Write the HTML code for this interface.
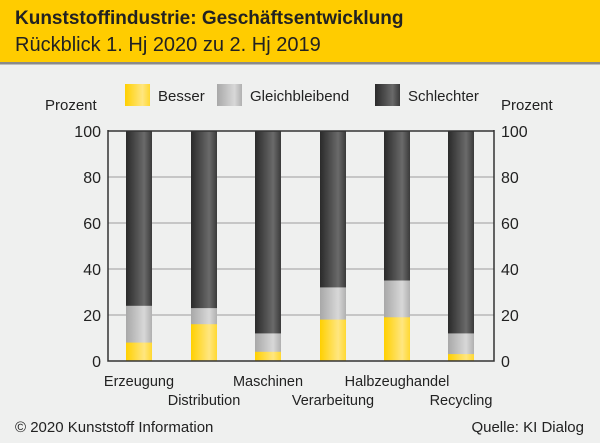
<!DOCTYPE html><html><head><style>body{margin:0}</style></head><body>
<svg width="600" height="443" xmlns="http://www.w3.org/2000/svg" font-family="Liberation Sans, sans-serif">
<defs>
<linearGradient id="y" x1="0" x2="1"><stop offset="0" stop-color="#ffd000"/><stop offset="0.7" stop-color="#ffe680"/><stop offset="1" stop-color="#ffd830"/></linearGradient>
<linearGradient id="g" x1="0" x2="1"><stop offset="0" stop-color="#a8a8a8"/><stop offset="0.7" stop-color="#d8d8d8"/><stop offset="1" stop-color="#b0b0b0"/></linearGradient>
<linearGradient id="d" x1="0" x2="1"><stop offset="0" stop-color="#2a2a2a"/><stop offset="0.7" stop-color="#6a6a6a"/><stop offset="1" stop-color="#3a3a3a"/></linearGradient>
</defs>
<rect width="600" height="443" fill="#eff0ef"/>
<rect width="600" height="62" fill="#ffcc00"/>
<rect y="62" width="600" height="2.5" fill="#8a8a8a"/>
<text x="15" y="24" font-size="19" font-weight="bold" fill="#222">Kunststoffindustrie: Geschäftsentwicklung</text>
<text x="15" y="51" font-size="20" fill="#222">Rückblick 1. Hj 2020 zu 2. Hj 2019</text>
<rect x="125" y="84" width="25" height="22" fill="url(#y)"/><text x="158" y="101" font-size="15" fill="#222">Besser</text>
<rect x="217" y="84" width="25" height="22" fill="url(#g)"/><text x="250" y="101" font-size="15" fill="#222">Gleichbleibend</text>
<rect x="375" y="84" width="25" height="22" fill="url(#d)"/><text x="408" y="101" font-size="15" fill="#222">Schlechter</text>
<text x="45" y="110" font-size="15" fill="#222">Prozent</text>
<text x="501" y="110" font-size="15" fill="#222">Prozent</text>
<g stroke="#b8b8b8" stroke-width="1.5">
<line x1="108" x2="494" y1="315" y2="315"/><line x1="108" x2="494" y1="269" y2="269"/><line x1="108" x2="494" y1="223" y2="223"/><line x1="108" x2="494" y1="177" y2="177"/>
</g>
<rect x="126" y="131" width="26" height="230" fill="url(#d)"/><rect x="126" y="305.8" width="26" height="55.2" fill="url(#g)"/><rect x="126" y="342.6" width="26" height="18.4" fill="url(#y)"/>
<rect x="191" y="131" width="26" height="230" fill="url(#d)"/><rect x="191" y="308.1" width="26" height="52.9" fill="url(#g)"/><rect x="191" y="324.2" width="26" height="36.8" fill="url(#y)"/>
<rect x="255" y="131" width="26" height="230" fill="url(#d)"/><rect x="255" y="333.4" width="26" height="27.6" fill="url(#g)"/><rect x="255" y="351.8" width="26" height="9.2" fill="url(#y)"/>
<rect x="320" y="131" width="26" height="230" fill="url(#d)"/><rect x="320" y="287.4" width="26" height="73.6" fill="url(#g)"/><rect x="320" y="319.6" width="26" height="41.4" fill="url(#y)"/>
<rect x="384" y="131" width="26" height="230" fill="url(#d)"/><rect x="384" y="280.5" width="26" height="80.5" fill="url(#g)"/><rect x="384" y="317.3" width="26" height="43.7" fill="url(#y)"/>
<rect x="448" y="131" width="26" height="230" fill="url(#d)"/><rect x="448" y="333.4" width="26" height="27.6" fill="url(#g)"/><rect x="448" y="354.1" width="26" height="6.9" fill="url(#y)"/>
<path d="M108 131 L494 131 M108 130 L108 361 L494 361 L494 130" stroke="#333" stroke-width="1.5" fill="none"/>
<g font-size="16" fill="#222" text-anchor="end">
<text x="101" y="137">100</text><text x="101" y="183">80</text><text x="101" y="229">60</text><text x="101" y="275">40</text><text x="101" y="321">20</text><text x="101" y="367">0</text>
</g>
<g font-size="16" fill="#222">
<text x="501" y="137">100</text><text x="501" y="183">80</text><text x="501" y="229">60</text><text x="501" y="275">40</text><text x="501" y="321">20</text><text x="501" y="367">0</text>
</g>
<g font-size="14.5" fill="#222" text-anchor="middle">
<text x="139" y="386">Erzeugung</text><text x="204" y="405">Distribution</text><text x="268" y="386">Maschinen</text><text x="333" y="405">Verarbeitung</text><text x="397" y="386">Halbzeughandel</text><text x="461" y="405">Recycling</text>
</g>
<text x="15" y="432" font-size="15" fill="#222">© 2020 Kunststoff Information</text>
<text x="584" y="432" font-size="15" fill="#222" text-anchor="end">Quelle: KI Dialog</text>
</svg>
</body></html>
